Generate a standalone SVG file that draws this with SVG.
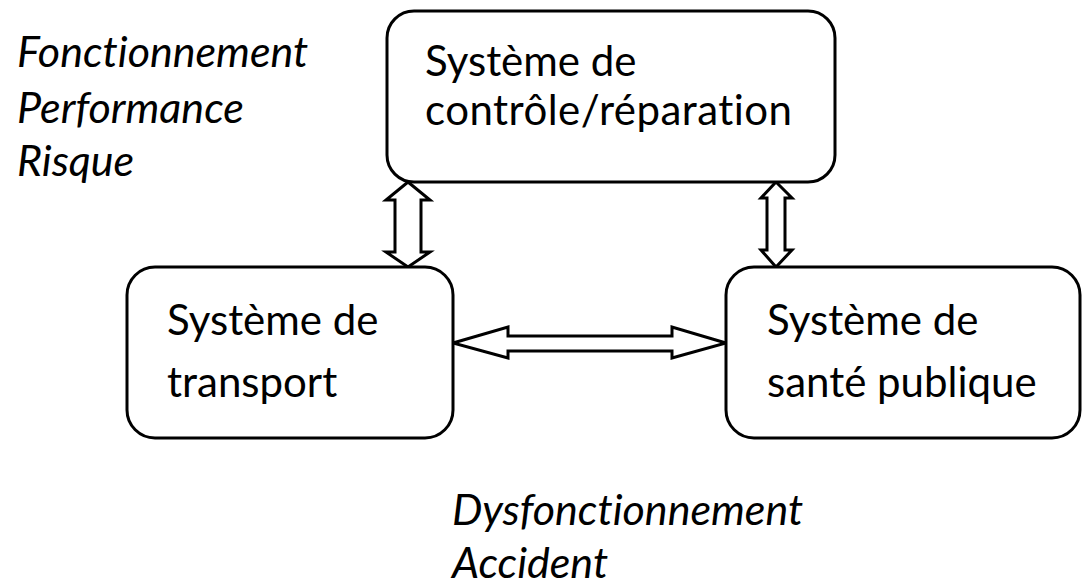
<svg xmlns="http://www.w3.org/2000/svg" width="1084" height="585" viewBox="0 0 1084 585">
  <style>
    .box { fill: #ffffff; stroke: #000000; stroke-width: 3; }
    .arrow { fill: #ffffff; stroke: #000000; stroke-width: 3; stroke-linejoin: miter; }
    .label { font-family: "Lato", "Open Sans", "Liberation Sans", sans-serif; font-size: 42px; fill: #000000; font-variant-ligatures: none; }
    .note { font-family: "Lato", "Open Sans", "Liberation Sans", sans-serif; font-size: 43px; font-style: italic; fill: #000000; font-variant-ligatures: none; }
  </style>
  <rect width="1084" height="585" fill="#ffffff"/>

  <!-- side notes -->
  <g id="notes-left">
    <text class="note" x="17" y="67">Fonctionnement</text>
    <text class="note" x="17" y="123">Performance</text>
    <text class="note" x="17" y="176">Risque</text>
  </g>
  <g id="notes-bottom">
    <text class="note" x="452" y="525">Dysfonctionnement</text>
    <text class="note" x="452" y="578">Accident</text>
  </g>

  <!-- double-headed block arrows -->
  <g id="connectors">
    <path class="arrow" d="M408,182 L430,200 L421,200 L421,252 L430,252 L408,267 L386,252 L395,252 L395,200 L386,200 Z"/>
    <path class="arrow" d="M776,182 L792,198 L785,198 L785,250 L792,250 L776,267 L761,250 L767,250 L767,198 L761,198 Z"/>
    <path class="arrow" d="M453,343 L508,327 L508,336 L672,336 L672,327 L726,343 L672,358 L672,351 L508,351 L508,358 Z"/>
  </g>

  <g id="node-controle">
    <rect class="box" x="387" y="11" width="448" height="171" rx="27" ry="27"/>
    <text class="label" x="425" y="76">Système de</text>
    <text class="label" x="425" y="125" textLength="367" lengthAdjust="spacing">contrôle/réparation</text>
  </g>

  <g id="node-transport">
    <rect class="box" x="127" y="267" width="326" height="171" rx="28" ry="28"/>
    <text class="label" x="167" y="335">Système de</text>
    <text class="label" x="167" y="397">transport</text>
  </g>

  <g id="node-sante">
    <rect class="box" x="726" y="267" width="354" height="171" rx="28" ry="28"/>
    <text class="label" x="767" y="335">Système de</text>
    <text class="label" x="767" y="397">santé publique</text>
  </g>
</svg>
